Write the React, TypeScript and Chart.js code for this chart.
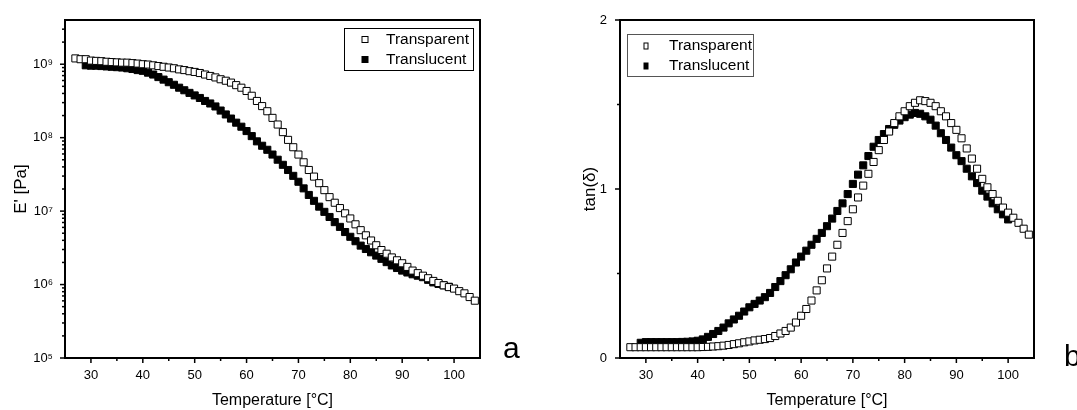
import React, { useEffect, useRef } from 'react';
import { Chart, registerables } from 'chart.js';

Chart.register(...registerables);

const FONT = "'Liberation Sans', Arial, Helvetica, sans-serif";

// ---------- Panel a : storage modulus E' [Pa] ----------
const TEMP_A_TRANSPARENT = [
  27, 28, 29, 30, 31, 32, 33, 34, 35, 36, 37, 38, 39, 40, 41, 42, 43, 44, 45, 46,
  47, 48, 49, 50, 51, 52, 53, 54, 55, 56, 57, 58, 59, 60, 61, 62, 63, 64, 65, 66,
  67, 68, 69, 70, 71, 72, 73, 74, 75, 76, 77, 78, 79, 80, 81, 82, 83, 84, 85, 86,
  87, 88, 89, 90, 91, 92, 93, 94, 95, 96, 97, 98, 99, 100, 101, 102, 103, 104,
];
const E_TRANSPARENT = [
  1.2e9, 1.17e9, 1.17e9, 1.12e9, 1.11e9, 1.1e9, 1.08e9, 1.07e9, 1.06e9, 1.05e9,
  1.05e9, 1.035e9, 1.02e9, 1.0e9, 9.9e8, 9.66e8, 9.44e8, 9.23e8, 9.02e8, 8.81e8,
  8.51e8, 8.32e8, 8.04e8, 7.85e8, 7.59e8, 7.24e8, 6.92e8, 6.61e8, 6.24e8, 5.96e8,
  5.62e8, 5.19e8, 4.79e8, 4.32e8, 3.72e8, 3.16e8, 2.69e8, 2.29e8, 1.86e8, 1.51e8,
  1.19e8, 9.33e7, 7.41e7, 5.89e7, 4.62e7, 3.63e7, 2.95e7, 2.4e7, 1.93e7, 1.55e7,
  1.3e7, 1.1e7, 9.33e6, 7.94e6, 6.61e6, 5.5e6, 4.68e6, 3.98e6, 3.43e6, 2.95e6,
  2.63e6, 2.34e6, 2.14e6, 1.95e6, 1.74e6, 1.55e6, 1.43e6, 1.32e6, 1.22e6, 1.12e6,
  1.05e6, 9.77e5, 9.23e5, 8.81e5, 8.13e5, 7.59e5, 6.76e5, 6.03e5,
];
const TEMP_A_TRANSLUCENT = [
  29, 30, 31, 32, 33, 34, 35, 36, 37, 38, 39, 40, 41, 42, 43, 44, 45, 46, 47, 48,
  49, 50, 51, 52, 53, 54, 55, 56, 57, 58, 59, 60, 61, 62, 63, 64, 65, 66, 67, 68,
  69, 70, 71, 72, 73, 74, 75, 76, 77, 78, 79, 80, 81, 82, 83, 84, 85, 86, 87, 88,
  89, 90, 91, 92, 93, 94, 95, 96, 97, 98, 99,
];
const E_TRANSLUCENT = [
  9.66e8, 9.55e8, 9.55e8, 9.44e8, 9.33e8, 9.23e8, 9.12e8, 9.02e8, 8.81e8, 8.61e8,
  8.32e8, 8.13e8, 7.67e8, 7.24e8, 6.68e8, 6.17e8, 5.69e8, 5.25e8, 4.79e8, 4.42e8,
  4.07e8, 3.76e8, 3.47e8, 3.16e8, 2.92e8, 2.66e8, 2.34e8, 2.07e8, 1.82e8, 1.6e8,
  1.41e8, 1.23e8, 1.05e8, 8.91e7, 7.76e7, 6.84e7, 5.89e7, 5.01e7, 4.27e7, 3.63e7,
  3.02e7, 2.51e7, 2.04e7, 1.66e7, 1.38e7, 1.15e7, 9.77e6, 8.32e6, 7.08e6, 6.1e6,
  5.19e6, 4.47e6, 3.89e6, 3.39e6, 3.05e6, 2.75e6, 2.48e6, 2.24e6, 2.02e6, 1.82e6,
  1.68e6, 1.55e6, 1.46e6, 1.38e6, 1.32e6, 1.26e6, 1.16e6, 1.07e6, 1.02e6, 9.77e5,
  9.33e5,
];

// ---------- Panel b : tan(delta) ----------
const TEMP_B_TRANSPARENT = [
  27, 28, 29, 30, 31, 32, 33, 34, 35, 36, 37, 38, 39, 40, 41, 42, 43, 44, 45, 46,
  47, 48, 49, 50, 51, 52, 53, 54, 55, 56, 57, 58, 59, 60, 61, 62, 63, 64, 65, 66,
  67, 68, 69, 70, 71, 72, 73, 74, 75, 76, 77, 78, 79, 80, 81, 82, 83, 84, 85, 86,
  87, 88, 89, 90, 91, 92, 93, 94, 95, 96, 97, 98, 99, 100, 101, 102, 103, 104,
];
const TAN_TRANSPARENT = [
  0.064, 0.064, 0.064, 0.064, 0.064, 0.064, 0.064, 0.064, 0.064, 0.064,
  0.064, 0.064, 0.064, 0.064, 0.065, 0.066, 0.068, 0.07, 0.073, 0.077,
  0.082, 0.087, 0.093, 0.098, 0.104, 0.108, 0.112, 0.118, 0.13, 0.145,
  0.16, 0.18, 0.21, 0.25, 0.29, 0.34, 0.4, 0.46, 0.53, 0.6,
  0.67, 0.74, 0.81, 0.88, 0.95, 1.02, 1.09, 1.16, 1.23, 1.29,
  1.34, 1.39, 1.43, 1.46, 1.49, 1.51, 1.525, 1.52, 1.51, 1.49,
  1.46, 1.43, 1.39, 1.35, 1.3, 1.24, 1.18, 1.12, 1.06, 1.01,
  0.97, 0.93, 0.89, 0.86, 0.83, 0.8, 0.765, 0.73,
];
const TEMP_B_TRANSLUCENT = [
  29, 30, 31, 32, 33, 34, 35, 36, 37, 38, 39, 40, 41, 42, 43, 44, 45, 46, 47, 48,
  49, 50, 51, 52, 53, 54, 55, 56, 57, 58, 59, 60, 61, 62, 63, 64, 65, 66, 67, 68,
  69, 70, 71, 72, 73, 74, 75, 76, 77, 78, 79, 80, 81, 82, 83, 84, 85, 86, 87, 88,
  89, 90, 91, 92, 93, 94, 95, 96, 97, 98, 99, 100,
];
const TAN_TRANSLUCENT = [
  0.09, 0.094, 0.094, 0.094, 0.094, 0.094, 0.094, 0.094, 0.095, 0.096,
  0.098, 0.102, 0.11, 0.125, 0.142, 0.16, 0.18, 0.205, 0.228, 0.25,
  0.275, 0.3, 0.32, 0.34, 0.36, 0.385, 0.42, 0.455, 0.49, 0.525,
  0.565, 0.6, 0.635, 0.67, 0.705, 0.74, 0.78, 0.825, 0.87, 0.915,
  0.97, 1.03, 1.085, 1.14, 1.195, 1.25, 1.29, 1.325, 1.355, 1.38,
  1.405, 1.425, 1.44, 1.45, 1.445, 1.43, 1.41, 1.375, 1.33, 1.29,
  1.245, 1.2, 1.165, 1.12, 1.075, 1.035, 0.99, 0.955, 0.915, 0.88,
  0.85, 0.82,
];

const SERIES_NAMES = ['Transparent', 'Translucent'];
const X_TICKS = [30, 40, 50, 60, 70, 80, 90, 100];
const X_MINOR_TICKS = [35, 45, 55, 65, 75, 85, 95];
const A_Y_TICKS = [1e5, 1e6, 1e7, 1e8, 1e9];
const A_Y_LABELS = ['10\u2075', '10\u2076', '10\u2077', '10\u2078', '10\u2079'];
const B_Y_TICKS = [0, 1, 2];
const B_Y_LABELS = ['0', '1', '2'];
const B_Y_MINOR_TICKS = [0.5, 1.5];
const X_TITLE = 'Temperature [°C]';
const A_Y_TITLE = "E' [Pa]";
const B_Y_TITLE = 'tan(\u03b4)';
const PANEL_LETTERS = ['a', 'b'];

const A_MIN = 1e5;
const A_MAX = 4e9;
const A_Y_MINOR_TICKS: number[] = [];
for (const dec of A_Y_TICKS) {
  for (let m = 2; m <= 9; m++) {
    if (dec * m < A_MAX) A_Y_MINOR_TICKS.push(dec * m);
  }
}

const zip = (xs: number[], ys: number[]) =>
  ys.map((y, i) => ({ x: xs[i], y }));

const framePlugin = {
  id: 'frameTicks',
  afterDraw(chart: any, _args: any, opts: any) {
    const { ctx, chartArea: a } = chart;
    const xs = chart.scales.x;
    const ys = chart.scales.y;
    ctx.save();
    ctx.strokeStyle = '#000';
    ctx.lineWidth = 1.5;
    const seg = (x1: number, y1: number, x2: number, y2: number) => {
      ctx.beginPath();
      ctx.moveTo(x1, y1);
      ctx.lineTo(x2, y2);
      ctx.stroke();
    };
    for (const v of opts.xMajor) {
      const p = xs.getPixelForValue(v);
      seg(p, a.bottom, p, a.bottom + 5);
    }
    for (const v of opts.xMinor) {
      const p = xs.getPixelForValue(v);
      seg(p, a.bottom, p, a.bottom + 3);
    }
    for (const v of opts.yMajor) {
      const p = ys.getPixelForValue(v);
      seg(a.left, p, a.left - 5, p);
    }
    for (const v of opts.yMinor) {
      const p = ys.getPixelForValue(v);
      seg(a.left, p, a.left - 3, p);
    }
    ctx.lineWidth = 2;
    ctx.strokeRect(a.left, a.top, a.right - a.left, a.bottom - a.top);

    // legend
    const L = opts.legend;
    ctx.lineWidth = 1;
    ctx.strokeStyle = L.boxColor;
    ctx.strokeRect(L.x + 0.5, L.y + 0.5, L.w, L.h);
    ctx.font = `${L.fontSize}px ${FONT}`;
    ctx.textBaseline = 'middle';
    ctx.textAlign = 'left';
    chart.data.datasets.forEach((ds: any, i: number) => {
      const cy = L.rows[i];
      const mw = L.markerW;
      const mh = L.markerH;
      ctx.fillStyle = ds.backgroundColor;
      ctx.fillRect(L.markerX - mw / 2, cy - mh / 2, mw, mh);
      ctx.strokeStyle = ds.borderColor;
      ctx.lineWidth = 1;
      ctx.strokeRect(L.markerX - mw / 2, cy - mh / 2, mw, mh);
      ctx.fillStyle = '#000';
      ctx.fillText(ds.label, L.textX, cy);
    });

    // panel letter
    ctx.font = `30px ${FONT}`;
    ctx.textBaseline = 'alphabetic';
    ctx.fillStyle = '#000';
    ctx.fillText(opts.letter, opts.letterX, opts.letterY);
    ctx.restore();
  },
};

function makeConfig(panel: 'a' | 'b'): any {
  const isA = panel === 'a';
  const tickFont = { family: FONT, size: 13 };
  const datasets = [
    {
      label: SERIES_NAMES[0],
      data: isA ? zip(TEMP_A_TRANSPARENT, E_TRANSPARENT) : zip(TEMP_B_TRANSPARENT, TAN_TRANSPARENT),
      pointStyle: 'rect',
      pointRadius: 5,
      pointHoverRadius: 5,
      backgroundColor: '#ffffff',
      borderColor: '#000000',
      borderWidth: 1,
    },
    {
      label: SERIES_NAMES[1],
      data: isA ? zip(TEMP_A_TRANSLUCENT, E_TRANSLUCENT) : zip(TEMP_B_TRANSLUCENT, TAN_TRANSLUCENT),
      pointStyle: 'rect',
      pointRadius: 5,
      pointHoverRadius: 5,
      backgroundColor: '#000000',
      borderColor: '#000000',
      borderWidth: 1,
    },
  ];
  const yTicks = isA ? A_Y_TICKS : B_Y_TICKS;
  const yLabels = isA ? A_Y_LABELS : B_Y_LABELS;
  return {
    type: 'scatter',
    data: { datasets },
    plugins: [framePlugin],
    options: {
      responsive: false,
      animation: false,
      devicePixelRatio: 1,
      events: [],
      layout: {
        padding: isA
          ? { left: 0, top: 20, right: 60, bottom: 0 }
          : { left: 0, top: 20, right: 43, bottom: 0 },
      },
      plugins: {
        legend: { display: false },
        tooltip: { enabled: false },
        frameTicks: {
          xMajor: X_TICKS,
          xMinor: X_MINOR_TICKS,
          yMajor: yTicks,
          yMinor: isA ? A_Y_MINOR_TICKS : B_Y_MINOR_TICKS,
          letter: isA ? PANEL_LETTERS[0] : PANEL_LETTERS[1],
          letterX: isA ? 503 : 524,
          letterY: isA ? 358 : 366,
          legend: isA
            ? {
                x: 344, y: 28, w: 129, h: 42, boxColor: '#000',
                markerX: 365, markerW: 6, markerH: 6, rows: [39.5, 59.5],
                textX: 386, fontSize: 15.5,
              }
            : {
                x: 87, y: 34, w: 126, h: 42, boxColor: '#555',
                markerX: 106, markerW: 4, markerH: 6, rows: [46, 66],
                textX: 129, fontSize: 15.5,
              },
        },
      },
      scales: {
        x: {
          type: 'linear',
          min: 25,
          max: 105,
          afterBuildTicks: (s: any) => {
            s.ticks = X_TICKS.map((v) => ({ value: v }));
          },
          afterFit: (s: any) => {
            s.height = 52;
          },
          ticks: {
            font: tickFont,
            color: '#000',
            padding: 5,
            autoSkip: false,
            maxRotation: 0,
            callback: (v: any) => String(v),
          },
          grid: { drawOnChartArea: false, color: 'rgba(0,0,0,0)', tickLength: 5 },
          border: { display: false },
          title: {
            display: true,
            text: X_TITLE,
            color: '#000',
            font: { family: FONT, size: 16 },
            padding: { top: 0, bottom: 0 },
          },
        },
        y: {
          type: isA ? 'logarithmic' : 'linear',
          min: isA ? A_MIN : 0,
          max: isA ? A_MAX : 2,
          afterBuildTicks: (s: any) => {
            s.ticks = yTicks.map((v) => ({ value: v }));
          },
          afterFit: (s: any) => {
            s.width = isA ? 65 : 80;
          },
          ticks: {
            font: tickFont,
            color: '#000',
            padding: isA ? 7 : 8,
            autoSkip: false,
            callback: (v: any) => {
              const i = yTicks.indexOf(v);
              return i >= 0 ? yLabels[i] : '';
            },
          },
          grid: { drawOnChartArea: false, color: 'rgba(0,0,0,0)', tickLength: 5 },
          border: { display: false },
          title: {
            display: true,
            text: isA ? A_Y_TITLE : B_Y_TITLE,
            color: '#000',
            font: { family: FONT, size: 17 },
            padding: { top: isA ? 11 : 40, bottom: 0 },
          },
        },
      },
    },
  };
}

function Panel({ panel, left, width }: { panel: 'a' | 'b'; left: number; width: number }) {
  const ref = useRef<HTMLCanvasElement | null>(null);
  useEffect(() => {
    if (!ref.current) return;
    const chart = new Chart(ref.current, makeConfig(panel));
    return () => chart.destroy();
  }, [panel]);
  return (
    <canvas
      ref={ref}
      width={width}
      height={410}
      style={{ position: 'absolute', left, top: 0, width, height: 410 }}
    />
  );
}

export default function App() {
  return (
    <div
      style={{
        position: 'fixed',
        left: 0,
        top: 0,
        width: 1077,
        height: 410,
        background: '#fff',
        overflow: 'hidden',
      }}
    >
      <Panel panel="a" left={0} width={540} />
      <Panel panel="b" left={540} width={537} />
    </div>
  );
}
